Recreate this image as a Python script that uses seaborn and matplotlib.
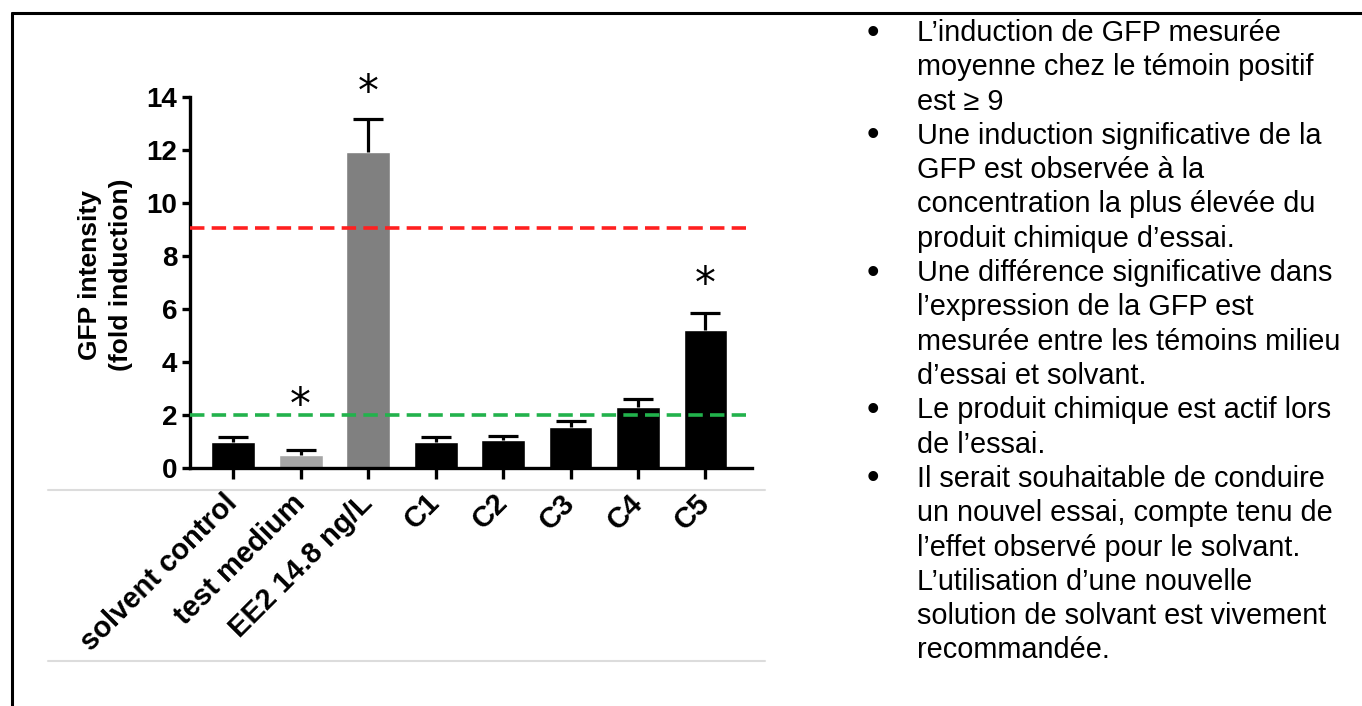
import numpy as np
import pandas as pd
import matplotlib
matplotlib.use("Agg")
import matplotlib.pyplot as plt
import seaborn as sns
from matplotlib.lines import Line2D

# -------- DATA --------
groups = ["solvent control", "test medium", "EE2 14.8 ng/L", "C1", "C2", "C3", "C4", "C5"]
means = [0.97, 0.50, 11.92, 0.97, 1.04, 1.56, 2.32, 5.22]
errors = [0.19, 0.18, 1.26, 0.19, 0.18, 0.23, 0.29, 0.63]
bar_colors = ["#000000", "#a6a6a6", "#808080", "#000000", "#000000", "#000000", "#000000", "#000000"]
star_groups = ["test medium", "EE2 14.8 ng/L", "C5"]
star_heights = [2.35, 14.15, 6.9]
positive_threshold = 9.05
solvent_threshold = 2.0

bullets = [
    ["L\u2019induction de GFP mesurée", "moyenne chez le témoin positif", "est \u2265 9"],
    ["Une induction significative de la", "GFP est observée à la",
     "concentration la plus élevée du", "produit chimique d\u2019essai."],
    ["Une différence significative dans", "l\u2019expression de la GFP est",
     "mesurée entre les témoins milieu", "d\u2019essai et solvant."],
    ["Le produit chimique est actif lors", "de l\u2019essai."],
    ["Il serait souhaitable de conduire", "un nouvel essai, compte tenu de",
     "l\u2019effet observé pour le solvant.", "L\u2019utilisation d\u2019une nouvelle",
     "solution de solvant est vivement", "recommandée."],
]

df = pd.DataFrame({"group": groups, "mean": means, "err": errors})

# -------- PLOT --------
sns.set_style("ticks")
plt.rcParams["font.family"] = ["Liberation Sans", "DejaVu Sans"]
plt.rcParams["text.color"] = "black"

W, H = 1362, 706
fig = plt.figure(figsize=(W / 100, H / 100), dpi=100)
ax = fig.add_axes([190 / W, 1 - 468 / H, 562 / W, 371 / H])

sns.barplot(data=df, x="group", y="mean", hue="group", palette=bar_colors,
            legend=False, errorbar=None, width=0.65, ax=ax, saturation=1)
xpos = np.arange(len(groups))
eb = ax.errorbar(xpos, df["mean"], yerr=[np.zeros(len(groups)), df["err"]], fmt="none",
                 ecolor="black", elinewidth=2.3, capsize=11, capthick=2.3)
eb[1][0].set_visible(False)  # upper error only

x_left, x_right = -0.64, 7.69
ax.hlines(positive_threshold, x_left, 7.6, colors="#ff2020", linestyles=(0, (4, 2)), linewidth=2.6, zorder=5)
ax.hlines(solvent_threshold, x_left, 7.6, colors="#22b24c", linestyles=(0, (4, 2)), linewidth=2.6, zorder=5)

for g, h in zip(star_groups, star_heights):
    ax.text(groups.index(g), h, "*", ha="center", va="center",
            fontsize=30, family="DejaVu Sans")

ax.set_xlim(x_left, x_right)
ax.set_ylim(0, 14)
ax.set_yticks(range(0, 15, 2))
for s in ["top", "right"]:
    ax.spines[s].set_visible(False)
for s in ["left", "bottom"]:
    ax.spines[s].set_linewidth(2.4)
    ax.spines[s].set_color("black")
ax.tick_params(axis="y", length=6, width=2.4, labelsize=20, pad=3, colors="black")
ax.tick_params(axis="x", length=8, width=2.4, labelsize=21, pad=14, colors="black")
for lab in ax.get_yticklabels():
    lab.set_fontweight("bold")
ax.set_xticks(xpos)
ax.set_xticklabels(groups, rotation=45, ha="right", va="center", rotation_mode="anchor",
                   fontweight="bold")
ax.set_xlabel("")
ax.set_ylabel("GFP intensity\n(fold induction)", fontsize=19, fontweight="bold",
              linespacing=1.35, color="black")
ax.yaxis.set_label_coords(-0.102, 0.52)

# frame and table borders
fig.add_artist(Line2D([12 / W, 1], [1 - 13 / H, 1 - 13 / H], color="black", linewidth=2.2))
fig.add_artist(Line2D([12 / W, 12 / W], [0, 1 - 13 / H], color="black", linewidth=2.2))
for yy in [490, 661]:
    fig.add_artist(Line2D([48 / W, 765 / W], [1 - yy / H, 1 - yy / H], color="#dcdcdc", linewidth=1.5))

# bullet text
line_y = 33
pitch = 34.3
for block in bullets:
    fig.text(873 / W, 1 - line_y / H, "\u2022", fontsize=26, ha="center", va="center")
    for line in block:
        fig.text(917 / W, 1 - line_y / H, line, fontsize=20.8, ha="left", va="center")
        line_y += pitch

fig.savefig("out.png", dpi=100)
